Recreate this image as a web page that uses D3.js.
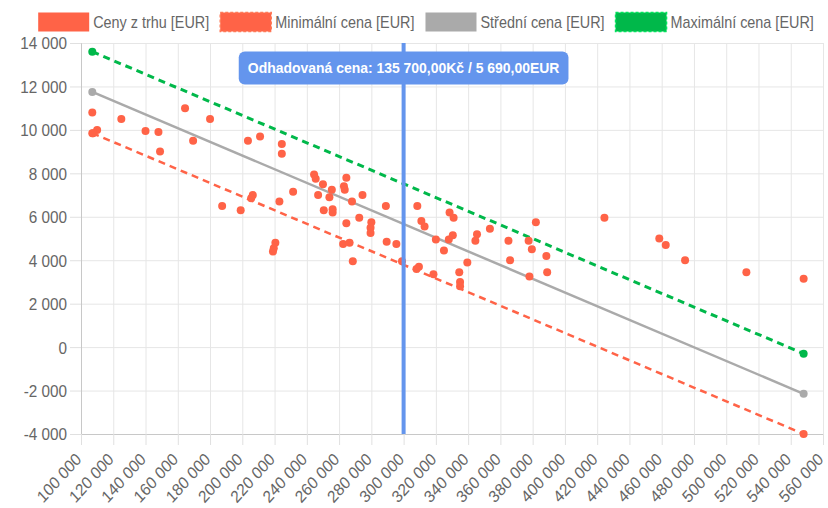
<!DOCTYPE html>
<html>
<head>
<meta charset="utf-8">
<script src="https://cdn.jsdelivr.net/npm/d3@7"></script>
<style>
  body { margin: 0; background: #fff; }
  svg { display: block; font-family: "Liberation Sans", Arial, sans-serif; }
</style>
</head>
<body>
<svg id="chart"></svg>
<script>
// nabídky z trhu: nájezd (km) a cena (EUR)
const marketKm = [107000, 110000, 107500, 125000, 140000, 148000, 149000, 164500, 169500, 180000,
  187500, 199000, 203500, 206500, 205500, 211000, 219000, 219500, 220500, 223000,
  224500, 224500, 231500, 244500, 245500, 250000, 247000, 264500, 263000, 263500,
  255500, 254000, 250500, 256000, 256000, 268000, 274500, 264500, 272500, 280000,
  279500, 279500, 262500, 266500, 268500, 289000, 289500, 295500, 299000, 308500,
  311000, 313000, 309500, 308000, 318500, 320000, 325000, 328500, 331000, 328000,
  330500, 334500, 335000, 335000, 339500, 345500, 344500, 353500, 365000, 366000,
  378000, 377500, 379500, 382000, 388500, 389000, 424500, 458500, 462500, 474500,
  512500, 548000];
const marketEur = [10800, 10000, 9850, 10500, 9950, 9900, 9000, 11000, 9500, 10500,
  6500, 6300, 9500, 7000, 6850, 9700, 4400, 4550, 4800, 6700,
  9350, 8900, 7150, 7950, 7750, 7500, 7000, 7800, 7400, 7250,
  7250, 6900, 6300, 6350, 6200, 6700, 7000, 5700, 5950, 5750,
  5500, 5250, 4750, 4800, 3950, 6500, 4850, 4750, 3950, 6500,
  5800, 5550, 3700, 3600, 3350, 4950, 4450, 6200, 5950, 4950,
  5150, 3450, 3000, 2800, 3900, 5200, 4900, 5450, 4900, 4000,
  3250, 4900, 4500, 5750, 4200, 3450, 5950, 5000, 4700, 4000,
  3450, 3150];

// regresní přímky (začátek a konec)
const lineKm = [107000, 548000];
const minPrice = [9850, -4000];
const meanPrice = [11750, -2150];
const maxPrice = [13600, -300];

const estimateKm = 300000;
const estimateLabel = 'Odhadovaná cena: 135 700,00Kč / 5 690,00EUR';

const legendLabels = ['Ceny z trhu [EUR]', 'Minimální cena [EUR]', 'Střední cena [EUR]', 'Maximální cena [EUR]'];
const xTicks = d3.range(100000, 560001, 20000);
const yTicks = d3.range(-4000, 14001, 2000);

const width = 828, height = 508;
const margin = { top: 43, right: 5, bottom: 74, left: 81 };
const sx = 0.9; // texty v předloze jsou vodorovně stlačené

const red = '#ff6347', gray = '#aaaaaa', green = '#00b84a', blue = '#6495ed';

const fmt = d3.formatLocale({ decimal: ',', thousands: ' ', grouping: [3], currency: ['', ''], minus: '-' }).format(',d');

const svg = d3.select('#chart').attr('width', width).attr('height', height);

const x = d3.scaleLinear().domain([100000, 560000]).range([margin.left, width - margin.right]);
const y = d3.scaleLinear().domain([-4000, 14000]).range([height - margin.bottom, margin.top]);
const plotW = x.range()[1] - x.range()[0];
const plotH = y.range()[0] - y.range()[1];

// mřížka
svg.append('g')
  .attr('transform', `translate(0,${y(-4000)})`)
  .call(d3.axisBottom(x).tickValues(xTicks).tickSize(-plotH).tickFormat(''))
  .call(g => g.select('.domain').remove())
  .call(g => g.selectAll('line').attr('stroke', '#e6e6e6'));
svg.append('g')
  .attr('transform', `translate(${x(100000)},0)`)
  .call(d3.axisLeft(y).tickValues(yTicks).tickSize(-plotW).tickFormat(''))
  .call(g => g.select('.domain').remove())
  .call(g => g.selectAll('line').attr('stroke', '#e6e6e6'));

// osa Y
svg.append('g')
  .attr('transform', `translate(${x(100000)},0)`)
  .call(d3.axisLeft(y).tickValues(yTicks).tickSize(11).tickFormat(fmt))
  .call(g => g.select('.domain').attr('stroke', '#c8c8c8'))
  .call(g => g.selectAll('line').attr('stroke', '#e0e0e0'))
  .call(g => g.selectAll('text')
    .attr('x', null)
    .attr('dy', '0.35em')
    .attr('transform', `translate(-14,0) scale(${sx},1)`)
    .attr('fill', '#666')
    .style('font-size', '17px'));

// osa X
svg.append('g')
  .attr('transform', `translate(0,${y(-4000)})`)
  .call(d3.axisBottom(x).tickValues(xTicks).tickSize(11).tickFormat(fmt))
  .call(g => g.select('.domain').attr('stroke', '#c8c8c8'))
  .call(g => g.selectAll('line').attr('stroke', '#e0e0e0'))
  .call(g => g.selectAll('text')
    .attr('x', null)
    .attr('y', null)
    .attr('dy', '0.35em')
    .attr('transform', `translate(-3,22) scale(${sx},1) rotate(-45)`)
    .attr('fill', '#666')
    .style('text-anchor', 'end')
    .style('font-size', '17px'));

// regresní přímky
const lines = [
  { vals: minPrice, color: red, dash: '7,5', w: 2.5 },
  { vals: meanPrice, color: gray, dash: null, w: 2.5 },
  { vals: maxPrice, color: green, dash: '7,5', w: 3 }
];
const line = d3.line().x(d => x(d[0])).y(d => y(d[1]));
lines.forEach(l => {
  const pts = lineKm.map((k, i) => [k, l.vals[i]]);
  svg.append('path')
    .datum(pts)
    .attr('d', line)
    .attr('fill', 'none')
    .attr('stroke', l.color)
    .attr('stroke-width', l.w)
    .attr('stroke-dasharray', l.dash);
  svg.selectAll(null)
    .data(pts)
    .enter()
    .append('circle')
    .attr('cx', d => x(d[0]))
    .attr('cy', d => y(d[1]))
    .attr('r', 4)
    .attr('fill', l.color);
});

// body z trhu
svg.selectAll('.market')
  .data(marketKm.map((k, i) => [k, marketEur[i]]))
  .enter()
  .append('circle')
  .attr('class', 'market')
  .attr('cx', d => x(d[0]))
  .attr('cy', d => y(d[1]))
  .attr('r', 4)
  .attr('fill', red);

// odhad
svg.append('line')
  .attr('x1', x(estimateKm)).attr('x2', x(estimateKm))
  .attr('y1', y(14000)).attr('y2', y(-4000))
  .attr('stroke', blue)
  .attr('stroke-width', 4);

const ann = svg.append('g').attr('transform', `translate(${x(estimateKm)},68)`);
const annText = ann.append('text')
  .attr('text-anchor', 'middle')
  .attr('dy', '0.35em')
  .attr('fill', '#fff')
  .style('font-size', '15.5px')
  .style('font-weight', 'bold')
  .text(estimateLabel);
const annW = annText.node().getComputedTextLength() * sx;
annText.attr('transform', `scale(${sx},1)`);
ann.insert('rect', 'text')
  .attr('x', -annW / 2 - 9)
  .attr('y', -16.5)
  .attr('width', annW + 18)
  .attr('height', 33)
  .attr('rx', 6)
  .attr('fill', blue);

// legenda
const legendItems = [
  { label: legendLabels[0], color: red, dash: false },
  { label: legendLabels[1], color: red, dash: true },
  { label: legendLabels[2], color: gray, dash: false },
  { label: legendLabels[3], color: green, dash: true }
];
const legend = svg.append('g');
let lx = 0;
legendItems.forEach(it => {
  const g = legend.append('g').attr('transform', `translate(${lx},0)`);
  g.append('rect')
    .attr('x', 0).attr('y', 12.5)
    .attr('width', 51).attr('height', 19)
    .attr('fill', it.color)
    .attr('stroke', it.dash ? d3.color(it.color).brighter(0.6) : 'none')
    .attr('stroke-width', 1.5)
    .attr('stroke-dasharray', it.dash ? '3,2' : null);
  const t = g.append('text')
    .attr('x', 0).attr('y', 22)
    .attr('dy', '0.35em')
    .attr('fill', '#666')
    .style('font-size', '16px')
    .text(it.label);
  const tw = t.node().getComputedTextLength() * sx;
  t.attr('transform', `translate(55,0) scale(${sx},1)`);
  lx += 55 + tw + 11;
});
legend.attr('transform', `translate(${426 - (lx - 11) / 2},0)`);
</script>
</body>
</html>
